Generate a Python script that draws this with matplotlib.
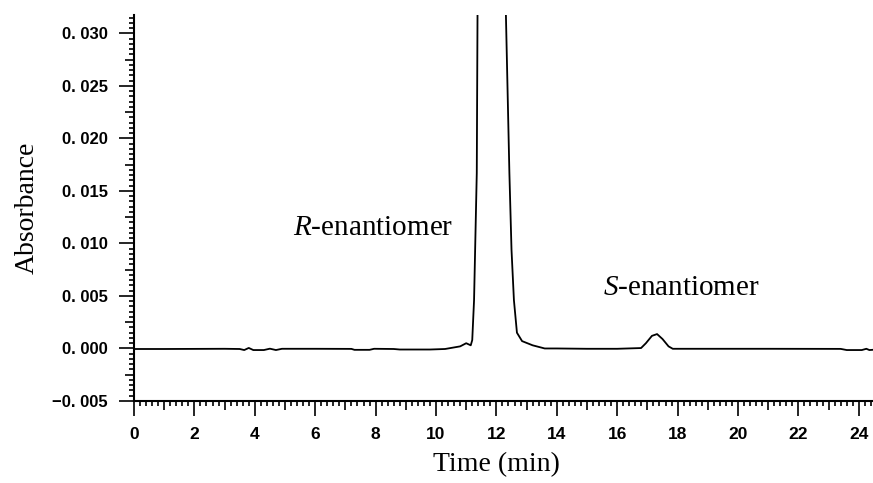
import numpy as np
import matplotlib
matplotlib.use("Agg")
import matplotlib.pyplot as plt
from matplotlib.ticker import FixedLocator, MultipleLocator, FuncFormatter

plt.rcParams['mathtext.fontset'] = 'custom'
plt.rcParams['mathtext.rm'] = 'Liberation Serif'
plt.rcParams['mathtext.it'] = 'Liberation Serif:italic'

# chromatogram (time in min, absorbance)
time = [0.0, 1.0, 2.0, 3.0, 3.5, 3.65, 3.8, 3.95, 4.3, 4.5, 4.7, 4.9,
        6.0, 7.2, 7.3, 7.8, 7.95, 8.6, 8.8, 9.8, 10.3, 10.8, 11.0, 11.15,
        11.2, 11.26, 11.35, 11.38, 11.8, 12.29, 12.43, 12.5, 12.58, 12.68,
        12.85, 13.2, 13.6, 14.0, 15.0, 16.0, 16.79, 16.95, 17.15, 17.32,
        17.5, 17.7, 17.84, 19.0, 21.0, 23.4, 23.6, 24.1, 24.25, 24.35, 24.6]
absorb = [-0.00005, -0.00005, -0.00004, -0.00003, -0.00005, -0.00015, 0.00005,
          -0.00015, -0.00015, -0.00002, -0.00015, -0.00003,
          -0.00003, -0.00004, -0.00013, -0.00013, -0.00003, -0.00005, -0.0001,
          -0.0001, -0.00005, 0.0002, 0.0005, 0.0003,
          0.0008, 0.0046, 0.0167, 0.035, 0.12, 0.035, 0.0167, 0.0094, 0.0046,
          0.0015, 0.0007, 0.0003, 0.0, 0.0, -0.00003, -0.00003, 0.00004,
          0.0005, 0.0012, 0.00137, 0.0009, 0.0002, -0.00003, -0.00003,
          -0.00003, -0.00004, -0.00015, -0.00015, -0.00003, -0.00015, -0.0001]

x_major = np.arange(0, 25, 1)
y_major = np.arange(-0.005, 0.0301, 0.0025)

fig = plt.figure(figsize=(8.73, 4.83), dpi=100)
ax = fig.add_axes([134 / 873, 1 - 401 / 483, 739 / 873, 386 / 483])

ax.plot(time, absorb, color="black", linewidth=1.3)

ax.set_xlim(0, 24.47)
ax.set_ylim(-0.005, 0.03174)
ax.spines["top"].set_visible(False)
ax.spines["right"].set_visible(False)
ax.spines["left"].set_linewidth(1.5)
ax.spines["bottom"].set_linewidth(1.5)

ax.xaxis.set_major_locator(FixedLocator(x_major))
ax.xaxis.set_minor_locator(MultipleLocator(0.2))
ax.yaxis.set_major_locator(FixedLocator(y_major))
ax.yaxis.set_minor_locator(MultipleLocator(0.0005))


def xfmt(v, pos):
    if round(v) % 2 == 0:
        return "%d" % round(v)
    return ""


def yfmt(v, pos):
    k = round(v / 0.0025)
    if k % 2 != 0:
        return ""
    s = ("%.3f" % v).replace(".", ". ")
    return s.replace("-", "\u2212")


ax.xaxis.set_major_formatter(FuncFormatter(xfmt))
ax.yaxis.set_major_formatter(FuncFormatter(yfmt))

ax.tick_params(which="both", direction="out", width=1.2, color="black")
ax.tick_params(which="minor", length=3.6)
ax.tick_params(axis="x", which="major", length=6.5, pad=12.5, labelsize=12.5)
ax.tick_params(axis="y", which="major", length=6.5, pad=12.5, labelsize=12)

fig.canvas.draw()
for t, v in zip(ax.xaxis.get_major_ticks(), x_major):
    if v % 2 == 0:
        t.tick1line.set_markersize(11)
for t, v in zip(ax.yaxis.get_major_ticks(), y_major):
    if round(v / 0.0025) % 2 == 0:
        t.tick1line.set_markersize(11)

for lab in ax.get_xticklabels() + ax.get_yticklabels():
    lab.set_family(["Liberation Sans", "DejaVu Sans"])
    lab.set_fontweight("bold")

ax.set_xlabel("Time (min)", family="Liberation Serif", fontsize=20)
ax.set_ylabel("Absorbance", family="Liberation Serif", fontsize=20)
ax.xaxis.set_label_coords(0.49, -0.133)
ax.yaxis.set_label_coords(-0.128, 0.5)

ax.text(5.26, 0.0108, r"$R$-enantiomer", family="Liberation Serif",
        fontsize=21, ha="left", va="baseline")
ax.text(15.53, 0.0051, r"$S$-enantiomer", family="Liberation Serif",
        fontsize=21, ha="left", va="baseline")

fig.savefig("out.png", dpi=100)
